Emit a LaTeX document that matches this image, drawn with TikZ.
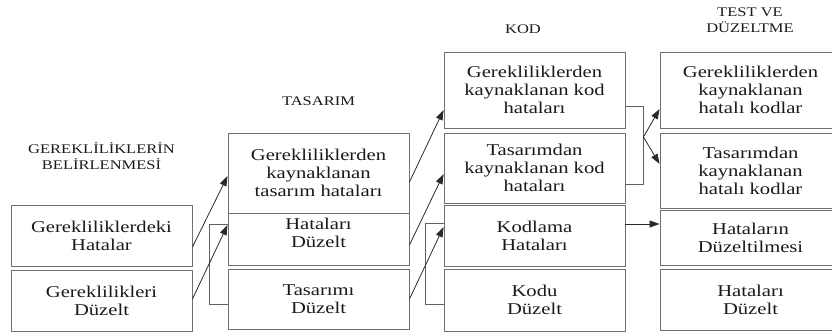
\documentclass[tikz,border=0pt]{standalone}
\usepackage{fontspec}
\setmainfont{Liberation Serif}[FakeStretch=1.25]
\usetikzlibrary{arrows.meta,calc}
\definecolor{boxgray}{HTML}{707070}
\definecolor{linegray}{HTML}{606060}
\definecolor{arrowdark}{HTML}{2A2A2A}
\definecolor{textdark}{HTML}{1A1A1A}
\newcommand{\boxtextfont}{\fontsize{16.5}{18}\selectfont}
\begin{document}
\begin{tikzpicture}[x=1pt,y=-1pt,
  box/.style={draw=boxgray,line width=0.9pt,inner sep=0pt,minimum width=181pt,
    align=center,text=textdark,font=\boxtextfont},
  header/.style={align=center,text=textdark,inner sep=0pt,
    font=\fontsize{13.2}{15.5}\selectfont},
  flow/.style={draw=arrowdark,line width=0.8pt,-{Triangle[length=10pt,width=7pt]}},
  bracket/.style={draw=linegray,line width=0.9pt}]
\clip (0,0) rectangle (832,335);

% column headers
\node[header] (h1) at (101.5,156) {GEREKLİLİKLERİN\\BELİRLENMESİ};
\node[header] (h2) at (318.5,101) {TASARIM};
\node[header] (h3) at (523,29) {KOD};
\node[header] (h4) at (750,20) {TEST VE\\DÜZELTME};

% requirements
\node[box,minimum height=61pt] (gh) at (101.5,235.5) {Gerekliliklerdeki\\Hatalar};
\node[box,minimum height=61pt] (gd) at (101.5,300.5) {Gereklilikleri\\Düzelt};

% design
\node[box,minimum height=80pt] (t1) at (318.5,173) {Gerekliliklerden\\kaynaklanan\\tasarım hataları};
\node[box,minimum height=52pt] (t2) at (318.5,239) {};
\node[text=textdark,align=center,inner sep=0pt,font=\boxtextfont]
  (t2text) at ($(t2.center)+(0,-6)$) {Hataları\\Düzelt};
\node[box,minimum height=60pt] (t3) at (318.5,299) {Tasarımı\\Düzelt};

% code
\node[box,minimum height=76pt] (k1) at (534.5,90) {Gerekliliklerden\\kaynaklanan kod\\hataları};
\node[box,minimum height=70pt] (k2) at (534.5,168) {Tasarımdan\\kaynaklanan kod\\hataları};
\node[box,minimum height=61pt] (k3) at (534.5,235.5) {Kodlama\\Hataları};
\node[box,minimum height=62pt] (k4) at (534.5,300) {Kodu\\Düzelt};

% test and correction
\node[box,minimum height=76pt] (d1) at (750.5,90) {Gerekliliklerden\\kaynaklanan\\hatalı kodlar};
\node[box,minimum height=75pt] (d2) at (750.5,170.5) {Tasarımdan\\kaynaklanan\\hatalı kodlar};
\node[box,minimum height=55pt] (d3) at (750.5,237.5) {Hataların\\Düzeltilmesi};
\node[box,minimum height=61pt] (d4) at (750.5,299.5) {Hataları\\Düzelt};

% brackets
\draw[bracket] ($(t3.west)+(0,5)$) -- ++(-18,0) |- ($(t2.west)+(0,-15)$);
\draw[bracket] ($(k4.west)+(0,4)$) -- ++(-18,0) |- ($(k3.west)+(0,-12)$);
\draw[bracket] ($(k1.east)+(0,16)$) -- ++(18,0) |- ($(k2.east)+(0,16)$);
\coordinate (j) at ($(k1.east)+(18,47)$);
\coordinate (kd) at ($(k3.east)+(0,-11.5)$);

% flows between phases
\draw[flow] ($(gh.east)+(0,11.5)$) -- ($(t1.west)+(0,3)$);
\draw[flow] ($(gd.east)+(0,-1.5)$) -- ($(t2.west)+(0,-14)$);
\draw[flow] ($(t1.east)+(0,9)$) -- ($(k1.west)+(0,20)$);
\draw[flow] ($(t2.east)+(0,6)$) -- ($(k2.west)+(0,6)$);
\draw[flow] (t3.east) -- ($(k3.west)+(0,-8.5)$);
\draw[flow] (j) -- ($(d1.west)+(0,19)$);
\draw[flow] (j) -- ($(d2.west)+(0,-6.5)$);
\draw[flow] (kd) -- (kd -| d3.west);
\end{tikzpicture}
\end{document}
